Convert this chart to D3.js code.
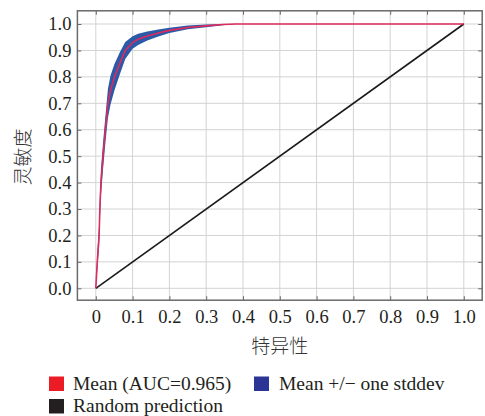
<!DOCTYPE html>
<html>
<head>
<meta charset="utf-8">
<script src="https://cdn.jsdelivr.net/npm/d3@7"></script>
<style>
  body { margin: 0; background: #fff; }
  svg { display: block; }
  .tick text { font-family: "Liberation Serif", "Times New Roman", serif; }
</style>
</head>
<body>
<script>
// ROC data
var fpr     = [0, 0.004, 0.009, 0.011, 0.014, 0.0196, 0.026, 0.033, 0.040, 0.051, 0.065, 0.080, 0.100, 0.115, 0.140, 0.170, 0.200, 0.250, 0.300, 0.345, 0.380, 1.0];
var tprMean = [0, 0.10, 0.20, 0.30, 0.40, 0.50, 0.60, 0.70, 0.75, 0.80, 0.85, 0.90, 0.930, 0.942, 0.955, 0.966, 0.976, 0.987, 0.993, 0.998, 1.0, 1.0];
var tprStd  = [0, 0.03, 0.04, 0.045, 0.05, 0.05, 0.05, 0.055, 0.055, 0.05, 0.042, 0.032, 0.024, 0.021, 0.017, 0.013, 0.010, 0.007, 0.005, 0.003, 0, 0];
var diagX = [0, 1];
var diagY = [0, 1];

var xTicks = [0, 0.1, 0.2, 0.3, 0.4, 0.5, 0.6, 0.7, 0.8, 0.9, 1.0];
var xTickLabels = ["0", "0.1", "0.2", "0.3", "0.4", "0.5", "0.6", "0.7", "0.8", "0.9", "1.0"];
var yTicks = [0, 0.1, 0.2, 0.3, 0.4, 0.5, 0.6, 0.7, 0.8, 0.9, 1.0];
var yTickLabels = ["0.0", "0.1", "0.2", "0.3", "0.4", "0.5", "0.6", "0.7", "0.8", "0.9", "1.0"];

var xTitle = "特异性";
var yTitle = "灵敏度";
var legendItems = [
  { label: "Mean (AUC=0.965)", color: "#ec1c24", col: 0, row: 0 },
  { label: "Mean +/\u2212 one stddev", color: "#2b3595", col: 1, row: 0 },
  { label: "Random prediction", color: "#231f20", col: 0, row: 1 }
];

var W = 485, H = 416;
var pLeft = 77.4, pRight = 482.2, pTop = 10.8, pBottom = 300.2;

var svg = d3.select("body").append("svg").attr("width", W).attr("height", H);

var x = d3.scaleLinear().domain([-0.05, 1.05]).range([pLeft, pRight]);
var y = d3.scaleLinear().domain([-0.045, 1.05]).range([pBottom, pTop]);

// grid
var grid = svg.append("g").attr("stroke", "#d3d3d3").attr("stroke-width", 1);
grid.selectAll("line.gx").data(xTicks).enter().append("line")
  .attr("x1", function (d) { return x(d); }).attr("x2", function (d) { return x(d); })
  .attr("y1", pTop).attr("y2", pBottom);
grid.selectAll("line.gy").data(yTicks).enter().append("line")
  .attr("y1", function (d) { return y(d); }).attr("y2", function (d) { return y(d); })
  .attr("x1", pLeft).attr("x2", pRight);

svg.append("clipPath").attr("id", "clip").append("rect")
  .attr("x", pLeft).attr("y", pTop).attr("width", pRight - pLeft).attr("height", pBottom - pTop);

var plot = svg.append("g").attr("clip-path", "url(#clip)");

// diagonal
plot.append("path")
  .datum(d3.range(diagX.length))
  .attr("fill", "none").attr("stroke", "#1a1a1a").attr("stroke-width", 1.6)
  .attr("d", d3.line().x(function (i) { return x(diagX[i]); }).y(function (i) { return y(diagY[i]); }));

// std band
var idx = d3.range(fpr.length);
plot.append("path")
  .datum(idx)
  .attr("fill", "#2b5aa8")
  .attr("d", d3.area()
    .x(function (i) { return x(fpr[i]); })
    .y0(function (i) { return y(Math.max(0, tprMean[i] - tprStd[i])); })
    .y1(function (i) { return y(Math.min(1, tprMean[i] + tprStd[i])); }));

// mean curve
plot.append("path")
  .datum(idx)
  .attr("fill", "none").attr("stroke", "#de2a5c").attr("stroke-width", 1.6)
  .attr("d", d3.line().x(function (i) { return x(fpr[i]); }).y(function (i) { return y(tprMean[i]); }));

// inward ticks on all four sides
var tickCol = "#6a6a6a";
function ticks(axis, tr) {
  var g = svg.append("g").attr("transform", tr).call(axis);
  g.select(".domain").remove();
  g.selectAll(".tick line").attr("stroke", tickCol);
  g.selectAll(".tick text").remove();
}
ticks(d3.axisBottom(x).tickValues(xTicks).tickSize(-4), "translate(0," + pBottom + ")");
ticks(d3.axisTop(x).tickValues(xTicks).tickSize(-4), "translate(0," + pTop + ")");
ticks(d3.axisLeft(y).tickValues(yTicks).tickSize(-4), "translate(" + pLeft + ",0)");
ticks(d3.axisRight(y).tickValues(yTicks).tickSize(-4), "translate(" + pRight + ",0)");

// frame
svg.append("rect")
  .attr("x", pLeft).attr("y", pTop).attr("width", pRight - pLeft).attr("height", pBottom - pTop)
  .attr("fill", "none").attr("stroke", "#6a6a6a").attr("stroke-width", 1.5);

// tick labels
var xl = svg.append("g").attr("transform", "translate(0," + pBottom + ")")
  .call(d3.axisBottom(x).tickValues(xTicks).tickSize(0).tickPadding(10)
    .tickFormat(function (d, i) { return xTickLabels[i]; }));
xl.select(".domain").remove();
xl.selectAll("text").attr("font-size", "18.5px").attr("fill", "#231f20");

var yl = svg.append("g").attr("transform", "translate(" + pLeft + ",0)")
  .call(d3.axisLeft(y).tickValues(yTicks).tickSize(0).tickPadding(6)
    .tickFormat(function (d, i) { return yTickLabels[i]; }));
yl.select(".domain").remove();
yl.selectAll("text").attr("font-size", "18.5px").attr("fill", "#231f20");

// axis titles
svg.append("text")
  .attr("x", x(0.5)).attr("y", 353)
  .attr("text-anchor", "middle")
  .attr("font-family", "'Noto Sans CJK SC', sans-serif")
  .attr("font-weight", 300)
  .attr("font-size", "19px").attr("fill", "#333")
  .text(xTitle);

svg.append("text")
  .attr("transform", "translate(30," + 157 + ") rotate(-90)")
  .attr("text-anchor", "middle")
  .attr("font-family", "'Noto Sans CJK SC', sans-serif")
  .attr("font-weight", 300)
  .attr("font-size", "19px").attr("fill", "#333")
  .text(yTitle);

// legend
var lg = svg.append("g").selectAll("g").data(legendItems).enter().append("g")
  .attr("transform", function (d) { return "translate(" + (d.col ? 254 : 49) + "," + (d.row ? 399 : 376.5) + ")"; });
lg.append("rect").attr("width", 15).attr("height", 14.5).attr("fill", function (d) { return d.color; });
lg.append("text")
  .attr("x", function (d) { return d.col ? 25 : 24; }).attr("y", 13)
  .attr("font-family", "'Liberation Serif', 'Times New Roman', serif")
  .attr("font-size", "19.5px").attr("fill", "#231f20")
  .text(function (d) { return d.label; });
</script>
</body>
</html>
